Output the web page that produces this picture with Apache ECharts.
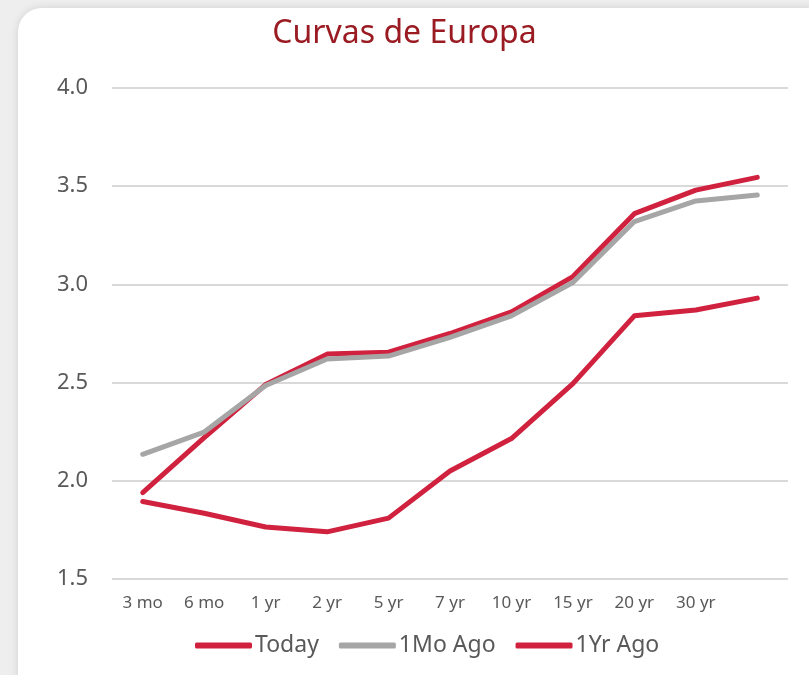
<!DOCTYPE html>
<html>
<head>
<meta charset="utf-8">
<script src="https://cdn.jsdelivr.net/npm/echarts@6/dist/echarts.min.js"></script>
<style>
  html, body { margin: 0; padding: 0; background: #eeeeee; }
  #card {
    position: absolute; left: 18px; top: 8px; width: 830px; height: 700px;
    background: #ffffff; border-radius: 24px;
    box-shadow: 0 0 8px rgba(0,0,0,0.12);
  }
  #chart { position: absolute; left: 0; top: 0; width: 809px; height: 675px; }
</style>
</head>
<body>
<div id="card"></div>
<div id="chart"></div>
<script>
// plazos de la curva (el ultimo punto no tiene etiqueta)
const plazos = ['3 mo', '6 mo', '1 yr', '2 yr', '5 yr', '7 yr', '10 yr', '15 yr', '20 yr', '30 yr', ''];

// rendimientos
const hoy = [1.94, 2.22, 2.49, 2.645, 2.655, 2.75, 2.86, 3.04, 3.36, 3.48, 3.545];
const haceUnMes = [2.135, 2.248, 2.485, 2.62, 2.635, 2.73, 2.84, 3.01, 3.32, 3.425, 3.455];
const haceUnAno = [1.895, 1.835, 1.765, 1.74, 1.81, 2.05, 2.215, 2.495, 2.84, 2.87, 2.93];

const nombres = ['Today', '1Mo Ago', '1Yr Ago'];
const colores = ['#d0223f', '#a6a6a6', '#d0223f'];

var chartDom = document.getElementById('chart');
var myChart = echarts.init(chartDom, null, { renderer: 'canvas' });

function serie(nombre, datos, color) {
    return {
        name: nombre,
        type: 'line',
        data: datos,
        showSymbol: false,
        symbol: 'none',
        lineStyle: { width: 5, color: color, cap: 'round', join: 'round' },
        itemStyle: { color: color }
    };
}

var option = {
    backgroundColor: 'transparent',
    animation: false,
    title: {
        text: 'Curvas de Europa',
        left: 'center',
        top: 13,
        textStyle: {
            fontFamily: 'Noto Sans',
            fontWeight: 'normal',
            fontSize: 32,
            color: '#9b1b23'
        }
    },
    legend: {
        data: nombres,
        bottom: 13,
        left: 190,
        icon: 'roundRect',
        itemWidth: 57,
        itemHeight: 6,
        itemGap: 20,
        textStyle: {
            fontFamily: 'Noto Sans',
            fontSize: 23,
            color: '#595959',
            padding: [0, 0, 0, -2]
        }
    },
    grid: {
        left: 112,
        right: 21,
        top: 88,
        bottom: 96,
        containLabel: false
    },
    xAxis: {
        type: 'category',
        data: plazos,
        boundaryGap: true,
        axisLine: { show: false },
        axisTick: { show: false },
        axisLabel: {
            interval: 0,
            margin: 16,
            fontFamily: 'Noto Sans',
            fontSize: 17,
            color: '#595959'
        }
    },
    yAxis: {
        type: 'value',
        min: 1.5,
        max: 4.0,
        interval: 0.5,
        axisLine: { show: false },
        axisTick: { show: false },
        splitLine: { lineStyle: { color: '#d9d9d9', width: 2 } },
        axisLabel: {
            margin: 24,
            fontFamily: 'Noto Sans',
            fontSize: 22,
            color: '#595959',
            formatter: function (v) { return v.toFixed(1); }
        }
    },
    series: [
        serie(nombres[0], hoy, colores[0]),
        serie(nombres[1], haceUnMes, colores[1]),
        serie(nombres[2], haceUnAno, colores[2])
    ]
};

myChart.setOption(option);
</script>
</body>
</html>
